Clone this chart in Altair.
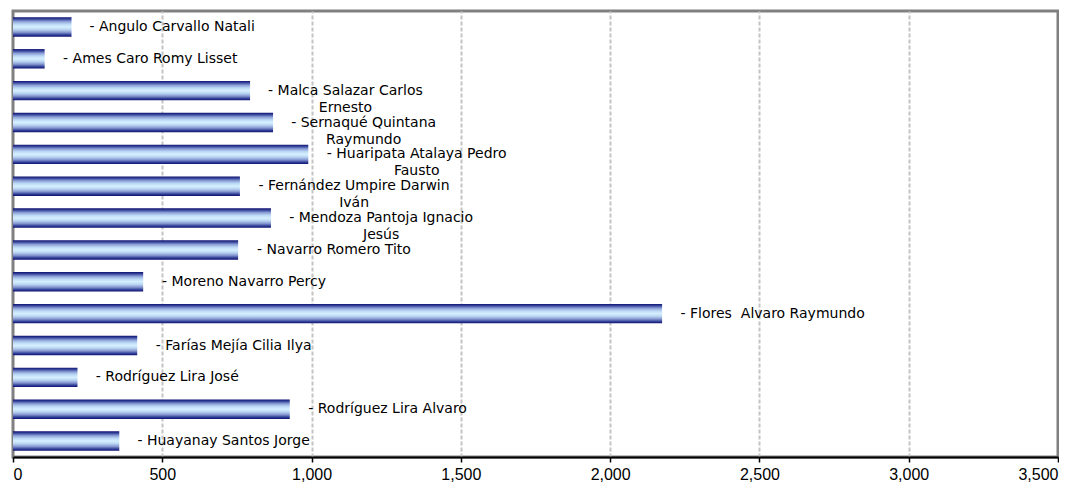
import altair as alt
import pandas as pd

names = [
    "Angulo Carvallo Natali",
    "Ames Caro Romy Lisset",
    "Malca Salazar Carlos Ernesto",
    "Sernaqué Quintana Raymundo",
    "Huaripata Atalaya Pedro Fausto",
    "Fernández Umpire Darwin Iván",
    "Mendoza Pantoja Ignacio Jesús",
    "Navarro Romero Tito",
    "Moreno Navarro Percy",
    "Flores  Alvaro Raymundo",
    "Farías Mejía Cilia Ilya",
    "Rodríguez Lira José",
    "Rodríguez Lira Alvaro",
    "Huayanay Santos Jorge",
]
values = [196, 106, 794, 871, 989, 760, 864, 754, 436, 2174, 416, 216, 927, 356]
ticks = [0, 500, 1000, 1500, 2000, 2500, 3000, 3500]

# --- layout helpers (label wrapping / width estimate, DejaVu Sans advance widths) ---
W = 1045
H = 446
FS = 14
ADV = {" ": 651, "-": 739, "A": 1401, "B": 1405, "C": 1430, "D": 1577, "E": 1294, "F": 1178,
       "G": 1574, "H": 1540, "I": 604, "J": 604, "K": 1343, "L": 1141, "M": 1767, "N": 1532,
       "O": 1612, "P": 1235, "Q": 1612, "R": 1423, "S": 1300, "T": 1251, "U": 1499, "V": 1401,
       "a": 1255, "b": 1300, "c": 1126, "d": 1300, "e": 1260, "f": 721, "g": 1300, "h": 1298,
       "i": 569, "j": 569, "k": 1186, "l": 569, "m": 1995, "n": 1298, "o": 1253, "p": 1300,
       "q": 1300, "r": 842, "s": 1067, "t": 803, "u": 1298, "v": 1212, "w": 1675, "x": 1212,
       "y": 1212, "z": 1075, "á": 1255, "é": 1260, "í": 569, "ú": 1298}


def width_px(s):
    return sum(ADV.get(c, 1250) for c in s) / 2048 * FS


def wrap(s, limit=25):
    words = s.split(" ")
    lines, cur = [], None
    for w in words:
        if cur is None:
            cur = w
        elif len(cur) + 1 + len(w) <= limit:
            cur = cur + " " + w
        else:
            lines.append(cur)
            cur = w
    lines.append(cur)
    return lines


rows = []
for n, v in zip(names, values):
    lines = wrap("- " + n)
    # keep doubled spaces visible in SVG
    shown = [l.replace("  ", " \u00a0") for l in lines]
    rows.append({"name": n, "value": v, "label": "\n".join(shown),
                 "w": max(width_px(l) for l in lines)})
df = pd.DataFrame(rows)

units_per_px = 3500 / W

grad = alt.Gradient(
    gradient="linear", x1=0, y1=0, x2=0, y2=1,
    stops=[
        alt.GradientStop(color="#101070", offset=0),
        alt.GradientStop(color="#34449a", offset=0.09),
        alt.GradientStop(color="#8c9fd6", offset=0.22),
        alt.GradientStop(color="#bcd9f6", offset=0.36),
        alt.GradientStop(color="#d6f0ff", offset=0.5),
        alt.GradientStop(color="#b8d4f2", offset=0.64),
        alt.GradientStop(color="#8696cf", offset=0.78),
        alt.GradientStop(color="#2e3e96", offset=0.91),
        alt.GradientStop(color="#101070", offset=1),
    ],
)

y_enc = alt.Y("name:N", sort=None, axis=None,
              scale=alt.Scale(paddingInner=0.39, paddingOuter=0.195))
x_scale = alt.Scale(domain=[0, 3500], nice=False)
x_axis = alt.Axis(values=ticks, format=",d", title=None,
                  labelFont="Liberation Sans", labelFontSize=16, labelColor="black",
                  labelPadding=4,
                  domainColor="black", domainWidth=2,
                  tickColor="black", tickSize=5, tickWidth=1.5,
                  grid=True, gridColor="#c4c4c4", gridDash=[4, 2], gridWidth=2,
                  gridOpacity=alt.condition("datum.value == 0 || datum.value == 3500",
                                            alt.value(0), alt.value(1)))

bars = alt.Chart(df).mark_bar(color=grad).encode(
    x=alt.X("value:Q", scale=x_scale, axis=x_axis),
    y=y_enc,
)

labels = alt.Chart(df).transform_calculate(
    lx=f"datum.value + (18 + datum.w / 2) * {units_per_px}"
).mark_text(font="DejaVu Sans", fontSize=FS, color="black", align="center",
            baseline="middle", lineBreak="\n", lineHeight=17).encode(
    x=alt.X("lx:Q", scale=x_scale, axis=x_axis),
    y=y_enc,
    text="label:N",
)

chart = alt.layer(bars, labels).properties(
    width=W, height=H,
    padding={"left": 4, "top": 3, "right": 0, "bottom": 0},
).configure_view(stroke="#808080", strokeWidth=3)

chart.save("out.html", embed_options={"renderer": "svg", "actions": False})
